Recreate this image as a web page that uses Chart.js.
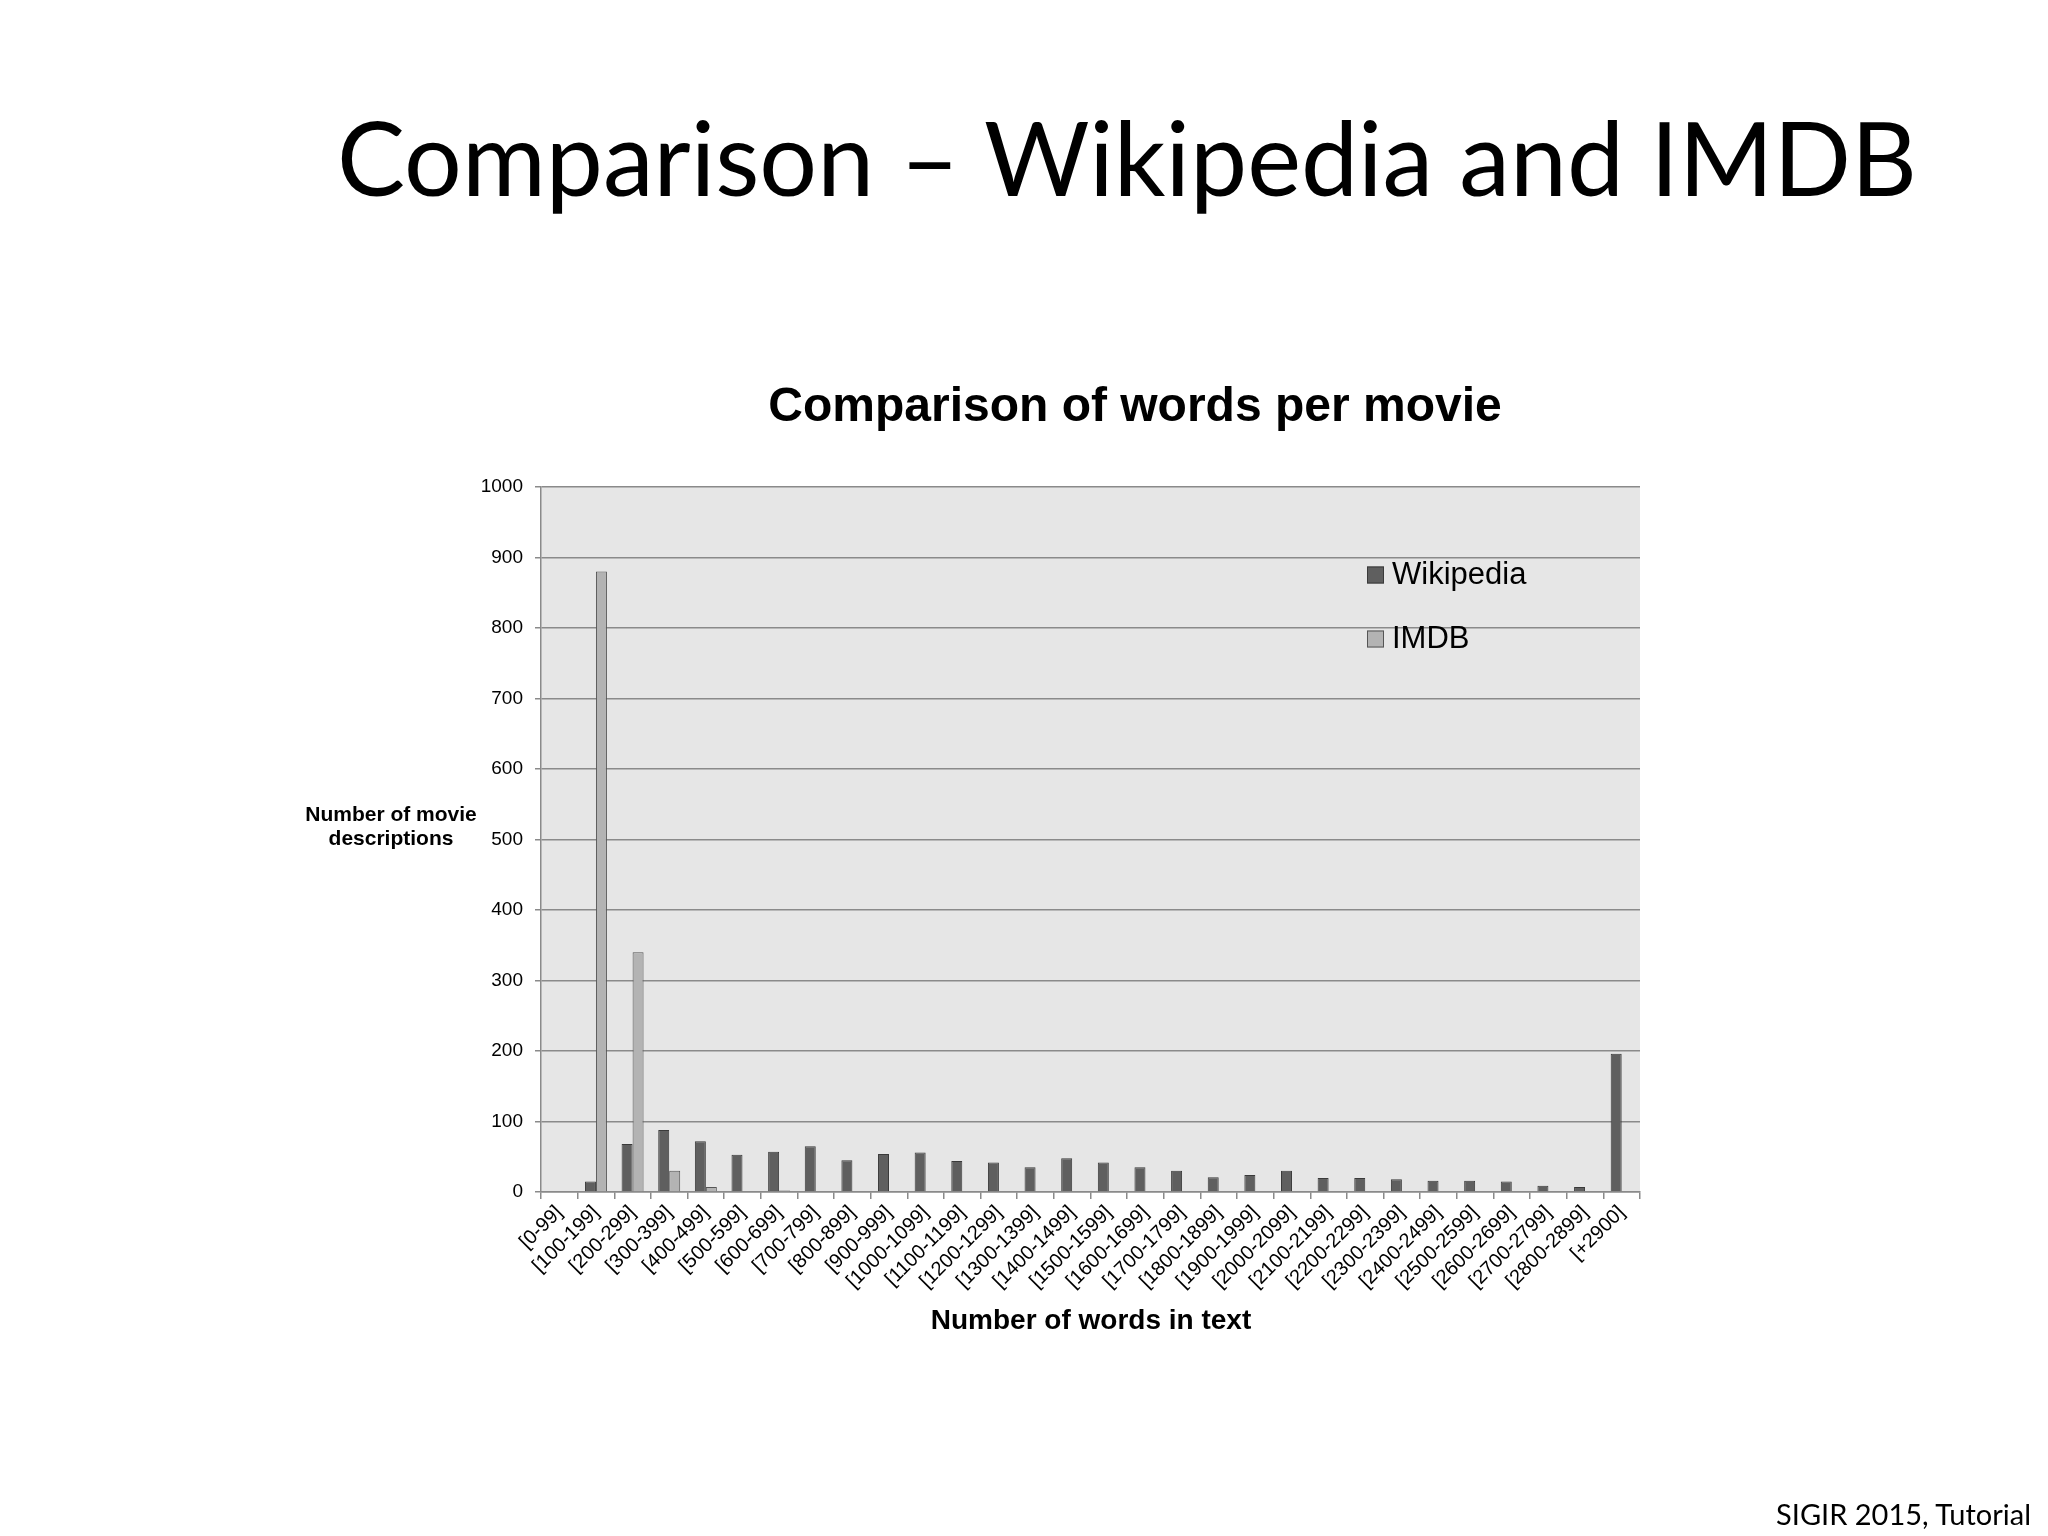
<!DOCTYPE html>
<html>
<head>
<meta charset="utf-8">
<title>Comparison – Wikipedia and IMDB</title>
<script src="https://cdn.jsdelivr.net/npm/chart.js@4.4.1/dist/chart.umd.min.js"></script>
<style>
  html, body { margin: 0; padding: 0; background: #fff; }
  #slide { position: relative; width: 2048px; height: 1536px; overflow: hidden; }
  #heading, #footer {
    position: absolute;
    font-family: "Lato", "Open Sans", sans-serif;
    line-height: 1;
    white-space: nowrap;
    color: #000;
  }
  #heading { left: 337px; font-size: 110px; }
  #footer { right: 17px; font-size: 30px; }
  #chart { position: absolute; left: 0; top: 0; }
</style>
</head>
<body>
<div id="slide">
  <div id="heading">Comparison – Wikipedia and IMDB</div>
  <canvas id="chart" width="2048" height="1536"></canvas>
  <div id="footer">SIGIR 2015, Tutorial</div>
</div>
<script>
const categories = [
  "[0-99]", "[100-199]", "[200-299]", "[300-399]", "[400-499]", "[500-599]",
  "[600-699]", "[700-799]", "[800-899]", "[900-999]", "[1000-1099]", "[1100-1199]",
  "[1200-1299]", "[1300-1399]", "[1400-1499]", "[1500-1599]", "[1600-1699]", "[1700-1799]",
  "[1800-1899]", "[1900-1999]", "[2000-2099]", "[2100-2199]", "[2200-2299]", "[2300-2399]",
  "[2400-2499]", "[2500-2599]", "[2600-2699]", "[2700-2799]", "[2800-2899]", "[+2900]"
];
const wikipedia = [0, 15, 68, 88, 72, 53, 57, 65, 45, 54, 56, 44, 42, 35, 48, 42, 35, 30,
  21, 24, 30, 20, 20, 18, 16, 16, 15, 9, 7, 196];
const imdb = [0, 880, 340, 30, 7, 0, 2, 0, 0, 0, 0, 0, 0, 0, 0, 0, 0, 0,
  0, 0, 0, 0, 0, 0, 0, 0, 0, 0, 0, 0];
const yTicks = [0, 100, 200, 300, 400, 500, 600, 700, 800, 900, 1000];

const chartTitle = "Comparison of words per movie";
const yTitle = ["Number of movie", "descriptions"];
const xTitle = "Number of words in text";

// slide heading and footer: fit to the width seen in the reference
function fitWidth(el, target) {
  const size = parseFloat(getComputedStyle(el).fontSize);
  const size2 = size * target / el.getBoundingClientRect().width;
  el.style.fontSize = size2 + "px";
  return size2;
}
const heading = document.getElementById("heading");
const hs = fitWidth(heading, 1580);
heading.style.top = (196 - 0.887 * hs) + "px";
const footer = document.getElementById("footer");
const fs = fitWidth(footer, 255);
footer.style.top = (1525 - 0.887 * fs) + "px";

const gridGray = "#8a8a8a";
const arial = "'Liberation Sans', Arial, sans-serif";

const plotBackground = {
  id: "plotBackground",
  beforeDraw(chart) {
    const { ctx, chartArea: a } = chart;
    ctx.save();
    ctx.fillStyle = "#e6e6e6";
    ctx.fillRect(a.left, a.top, a.right - a.left, a.bottom - a.top);
    ctx.restore();
  }
};

// titles (horizontal y title like the original) and the legend inside the plot
const chartTexts = {
  id: "chartTexts",
  afterDraw(chart) {
    const ctx = chart.ctx;
    ctx.save();
    ctx.fillStyle = "#000";
    ctx.textAlign = "center";
    ctx.textBaseline = "middle";

    ctx.font = "bold 48px " + arial;
    ctx.fillText(chartTitle, 1135, 408);

    ctx.font = "bold 21px " + arial;
    ctx.fillText(yTitle[0], 391, 815);
    ctx.fillText(yTitle[1], 391, 839);

    ctx.font = "bold 28px " + arial;
    ctx.fillText(xTitle, 1091, 1321);

    ctx.textAlign = "left";
    ctx.font = "31px " + arial;
    chart.data.datasets.forEach((ds, i) => {
      const cy = 575 + i * 64;
      ctx.fillStyle = ds.backgroundColor;
      ctx.fillRect(1367, cy - 8.5, 17, 17);
      ctx.strokeStyle = ds.borderColor;
      ctx.lineWidth = 1;
      ctx.strokeRect(1367.5, cy - 8, 16, 16);
      ctx.fillStyle = "#000";
      ctx.fillText(ds.label, 1392, cy);
    });
    ctx.restore();
  }
};

new Chart(document.getElementById("chart"), {
  type: "bar",
  data: {
    labels: categories,
    datasets: [
      {
        label: "Wikipedia",
        data: wikipedia,
        backgroundColor: "#5f5f5f",
        borderColor: "#3a3a3a",
        borderWidth: 1,
        categoryPercentage: 0.6,
        barPercentage: 1.0
      },
      {
        label: "IMDB",
        data: imdb,
        backgroundColor: "#b3b3b3",
        borderColor: "#555555",
        borderWidth: 1,
        categoryPercentage: 0.6,
        barPercentage: 1.0
      }
    ]
  },
  options: {
    responsive: false,
    animation: false,
    layout: { padding: { left: 461, right: 408, top: 487, bottom: 144 } },
    plugins: {
      legend: { display: false },
      title: { display: false },
      tooltip: { enabled: false }
    },
    scales: {
      x: {
        grid: {
          display: true,
          drawOnChartArea: false,
          drawTicks: true,
          tickLength: 7,
          color: gridGray,
          lineWidth: 1.5,
          offset: true
        },
        border: { color: gridGray, width: 1.5 },
        ticks: {
          color: "#000",
          font: { family: arial, size: 20 },
          minRotation: 45,
          maxRotation: 45,
          autoSkip: false,
          padding: 2
        },
        afterFit(scale) { scale.height = 200; }
      },
      y: {
        min: 0,
        max: 1000,
        afterBuildTicks(scale) { scale.ticks = yTicks.map(v => ({ value: v })); },
        grid: { color: gridGray, lineWidth: 1.5, tickLength: 6 },
        border: { color: gridGray, width: 1.5 },
        ticks: {
          color: "#000",
          font: { family: arial, size: 19 },
          padding: 12,
          callback: (v) => String(v)
        },
        afterFit(scale) { scale.width = 80; }
      }
    }
  },
  plugins: [plotBackground, chartTexts]
});
</script>
</body>
</html>
